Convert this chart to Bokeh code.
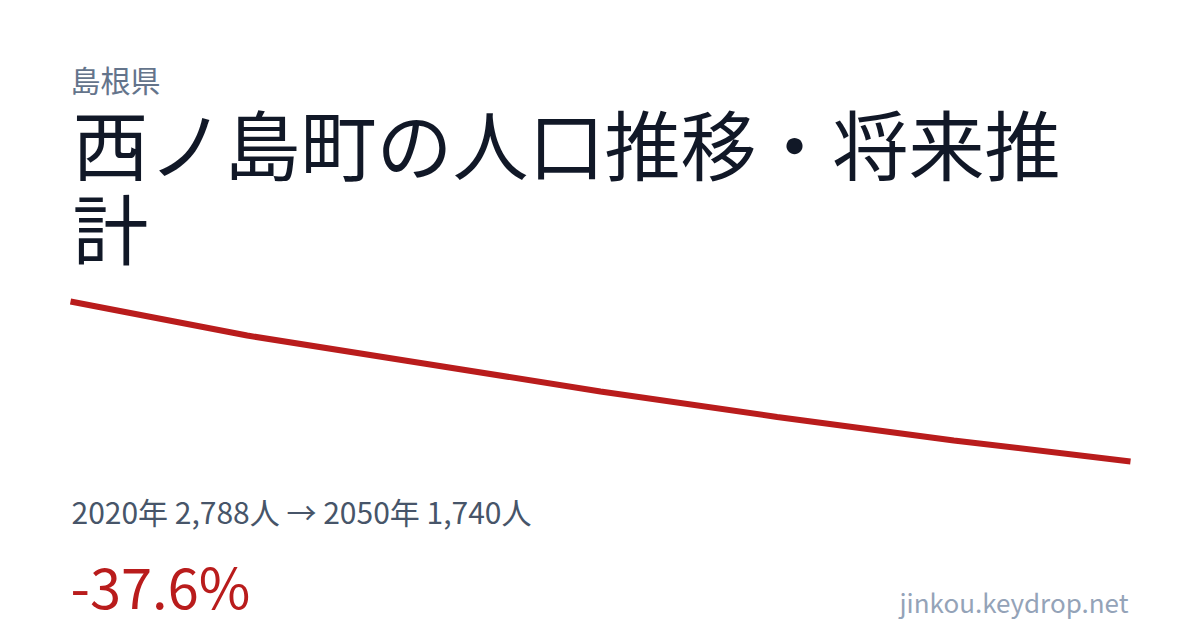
from bokeh.plotting import figure
from bokeh.models import Range1d, Label
from bokeh.embed import file_html
from bokeh.resources import INLINE

# データ（推計値）
years = [2020, 2025, 2030, 2035, 2040, 2045, 2050]
population = [2788, 2565, 2382, 2199, 2032, 1878, 1740]

prefecture = "島根県"
title_line1 = "西ノ島町の人口推移・将来推"
title_line2 = "計"
summary = "2020年 2,788人 → 2050年 1,740人"
change = "-37.6%"
site = "jinkou.keydrop.net"

FONT = "Noto Sans CJK JP"
W, H = 1200, 630

p = figure(width=W, height=H, output_backend="svg", toolbar_location=None,
           x_range=Range1d(2018.01887, 2051.98113), y_range=Range1d(633.05, 4759.55),
           min_border=0, background_fill_color="white", border_fill_color="white")
p.axis.visible = False
p.grid.visible = False
p.outline_line_color = None

p.line(years, population, line_width=6, color="#b91c1c")

def lab(text, x, y, size, color, align="left"):
    # x, y: page position (from top-left)
    p.add_layout(Label(x=x, y=H - y, x_units="screen", y_units="screen",
                       text=text, text_font=FONT, text_font_size=f"{size}px",
                       text_color=color, text_align=align, text_baseline="alphabetic"))

lab(prefecture, 70, 78, 30, "#64748b")
lab(title_line1, 72, 141, 76, "#111827")
lab(title_line2, 72, 225, 76, "#111827")
lab(summary, 71, 510, 30, "#475569")
lab(change, 70, 584, 56, "#b91c1c")
lab(site, 1128, 601, 26, "#94a3b8", align="right")

open("out.html", "w").write(file_html(p, INLINE))
